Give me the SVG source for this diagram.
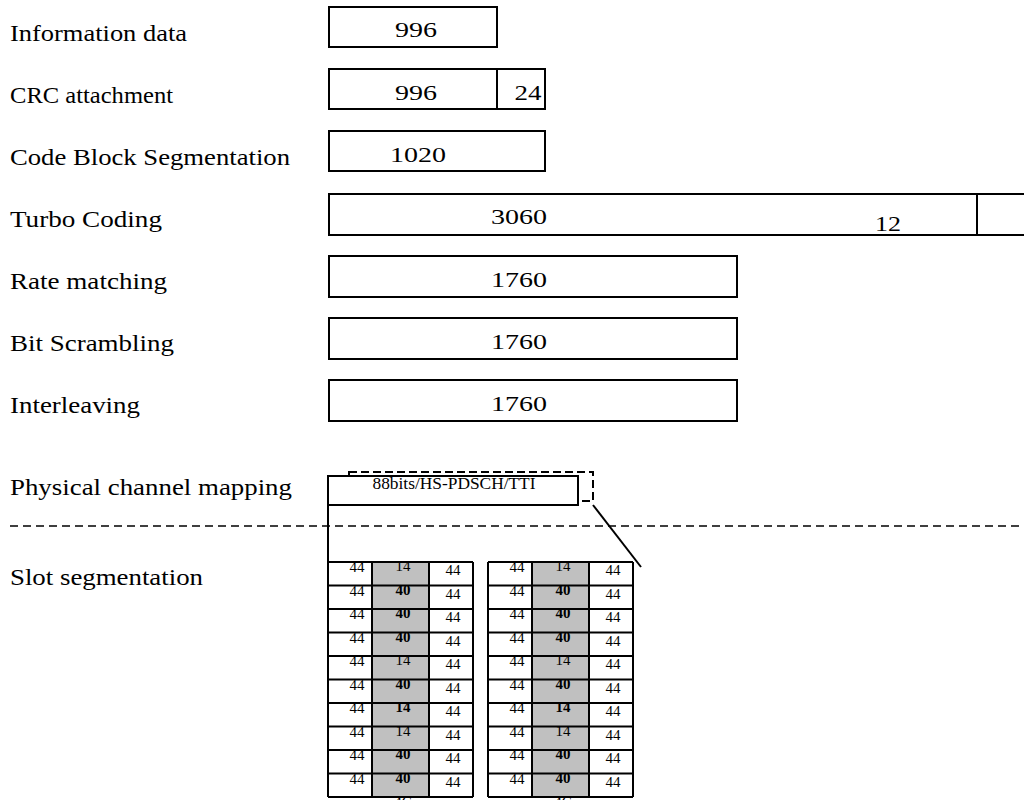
<svg xmlns="http://www.w3.org/2000/svg" width="1024" height="800" viewBox="0 0 1024 800">
<style>
text{font-family:"Liberation Serif","Times New Roman",serif;fill:#000}
.lbl{font-size:24px}
.num{font-size:22px;text-anchor:middle}
.box{fill:#fff;stroke:#000;stroke-width:2}
.ln{stroke:#000;stroke-width:2;fill:none}
.dash{stroke:#000;stroke-width:1.5;fill:none;stroke-dasharray:8 5}
.g{font-size:15px;text-anchor:middle}
.b{font-weight:bold}
.gray{fill:#c0c0c0}
</style>
<rect width="1024" height="800" fill="#fff"/>

<g id="info">
<text class="lbl" x="10" y="41" textLength="177" lengthAdjust="spacingAndGlyphs">Information data</text>
<rect class="box" x="329" y="7" width="168" height="40"/>
<text class="num" x="416" y="37" textLength="42" lengthAdjust="spacingAndGlyphs">996</text>
</g>

<g id="crc">
<text class="lbl" x="10" y="103" textLength="163" lengthAdjust="spacingAndGlyphs">CRC attachment</text>
<rect class="box" x="329" y="69" width="216" height="40"/>
<line class="ln" x1="497" y1="69" x2="497" y2="109"/>
<text class="num" x="416" y="100" textLength="42" lengthAdjust="spacingAndGlyphs">996</text>
<text class="num" x="528" y="100" font-size="24" textLength="27" lengthAdjust="spacingAndGlyphs">24</text>
</g>

<g id="cbs">
<text class="lbl" x="10" y="165" textLength="280" lengthAdjust="spacingAndGlyphs">Code Block Segmentation</text>
<rect class="box" x="329" y="131" width="216" height="40"/>
<text class="num" x="418" y="162" textLength="56" lengthAdjust="spacingAndGlyphs">1020</text>
</g>

<g id="turbo">
<text class="lbl" x="10" y="227" textLength="152" lengthAdjust="spacingAndGlyphs">Turbo Coding</text>
<rect class="box" x="329" y="194" width="710" height="41"/>
<line class="ln" x1="977" y1="194" x2="977" y2="235"/>
<text class="num" x="519" y="224" textLength="56" lengthAdjust="spacingAndGlyphs">3060</text>
<text class="num" x="888" y="231" textLength="26" lengthAdjust="spacingAndGlyphs">12</text>
</g>

<g id="rate">
<text class="lbl" x="10" y="289" textLength="157" lengthAdjust="spacingAndGlyphs">Rate matching</text>
<rect class="box" x="329" y="256" width="408" height="41"/>
<text class="num" x="519" y="287" textLength="56" lengthAdjust="spacingAndGlyphs">1760</text>
</g>

<g id="scramble">
<text class="lbl" x="10" y="351" textLength="164" lengthAdjust="spacingAndGlyphs">Bit Scrambling</text>
<rect class="box" x="329" y="318" width="408" height="41"/>
<text class="num" x="519" y="349" textLength="56" lengthAdjust="spacingAndGlyphs">1760</text>
</g>

<g id="interleave">
<text class="lbl" x="10" y="413" textLength="130" lengthAdjust="spacingAndGlyphs">Interleaving</text>
<rect class="box" x="329" y="380" width="408" height="41"/>
<text class="num" x="519" y="411" textLength="56" lengthAdjust="spacingAndGlyphs">1760</text>
</g>

<g id="connectors">
<line class="dash" x1="10" y1="526" x2="1024" y2="526"/>
<line class="ln" x1="328" y1="505" x2="328" y2="562"/>
<line class="ln" x1="593" y1="505" x2="641" y2="567"/>
</g>

<g id="phys">
<text class="lbl" x="10" y="495" textLength="282" lengthAdjust="spacingAndGlyphs">Physical channel mapping</text>
<rect x="349" y="472" width="244" height="29" fill="none" stroke="#000" stroke-width="2" stroke-dasharray="8 4"/>
<rect class="box" x="328" y="476" width="250" height="29"/>
<text x="454" y="489" font-size="16" text-anchor="middle" textLength="163" lengthAdjust="spacingAndGlyphs">88bits/HS-PDSCH/TTI</text>
</g>

<g id="slot-label">
<text class="lbl" x="10" y="585" textLength="193" lengthAdjust="spacingAndGlyphs">Slot segmentation</text>
</g>

<g id="grid1">
<rect class="gray" x="372" y="562" width="57" height="235"/>
<g class="g">
<text x="357" y="572">44</text><text x="453" y="575">44</text><text x="403" y="571">14</text>
<text x="357" y="595.5">44</text><text x="453" y="598.5">44</text><text class="b" x="403" y="594.5">40</text>
<text x="357" y="619">44</text><text x="453" y="622">44</text><text class="b" x="403" y="618">40</text>
<text x="357" y="642.5">44</text><text x="453" y="645.5">44</text><text class="b" x="403" y="641.5">40</text>
<text x="357" y="666">44</text><text x="453" y="669">44</text><text x="403" y="665">14</text>
<text x="357" y="689.5">44</text><text x="453" y="692.5">44</text><text class="b" x="403" y="688.5">40</text>
<text x="357" y="713">44</text><text x="453" y="716">44</text><text class="b" x="403" y="712">14</text>
<text x="357" y="736.5">44</text><text x="453" y="739.5">44</text><text x="403" y="735.5">14</text>
<text x="357" y="760">44</text><text x="453" y="763">44</text><text class="b" x="403" y="759">40</text>
<text x="357" y="783.5">44</text><text x="453" y="786.5">44</text><text class="b" x="403" y="782.5">40</text>
<text x="403" y="807">4C</text>
</g>
<path class="ln" d="M328 562V797M372 562V797M429 562V797M473 562V797M328 562H473M328 585.5H473M328 609H473M328 632.5H473M328 656H473M328 679.5H473M328 703H473M328 726.5H473M328 750H473M328 773.5H473M328 797H473"/>
</g>

<g id="grid2">
<rect class="gray" x="532" y="562" width="57" height="235"/>
<g class="g">
<text x="517" y="572">44</text><text x="613" y="575">44</text><text x="563" y="571">14</text>
<text x="517" y="595.5">44</text><text x="613" y="598.5">44</text><text class="b" x="563" y="594.5">40</text>
<text x="517" y="619">44</text><text x="613" y="622">44</text><text class="b" x="563" y="618">40</text>
<text x="517" y="642.5">44</text><text x="613" y="645.5">44</text><text class="b" x="563" y="641.5">40</text>
<text x="517" y="666">44</text><text x="613" y="669">44</text><text x="563" y="665">14</text>
<text x="517" y="689.5">44</text><text x="613" y="692.5">44</text><text class="b" x="563" y="688.5">40</text>
<text x="517" y="713">44</text><text x="613" y="716">44</text><text class="b" x="563" y="712">14</text>
<text x="517" y="736.5">44</text><text x="613" y="739.5">44</text><text x="563" y="735.5">14</text>
<text x="517" y="760">44</text><text x="613" y="763">44</text><text class="b" x="563" y="759">40</text>
<text x="517" y="783.5">44</text><text x="613" y="786.5">44</text><text class="b" x="563" y="782.5">40</text>
<text x="563" y="807">4C</text>
</g>
<path class="ln" d="M488 562V797M532 562V797M589 562V797M633 562V797M488 562H633M488 585.5H633M488 609H633M488 632.5H633M488 656H633M488 679.5H633M488 703H633M488 726.5H633M488 750H633M488 773.5H633M488 797H633"/>
</g>
</svg>
